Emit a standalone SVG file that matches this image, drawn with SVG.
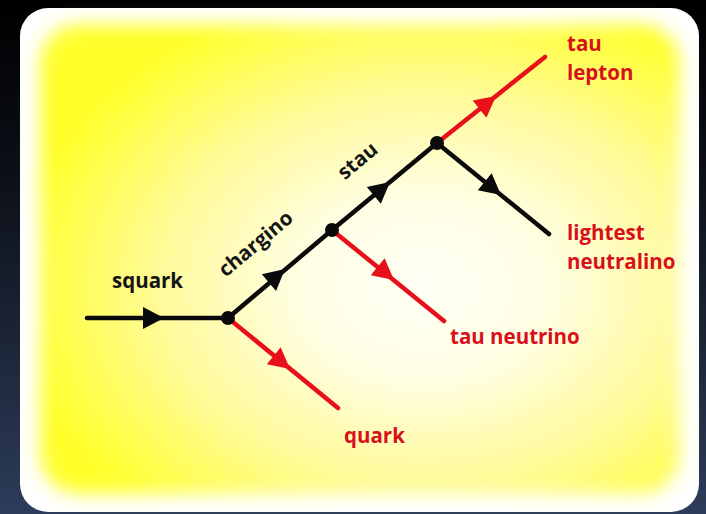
<svg xmlns="http://www.w3.org/2000/svg" width="706" height="514" viewBox="0 0 706 514">
  <defs>
    <linearGradient id="bg" x1="0" y1="0" x2="0" y2="1">
      <stop offset="0" stop-color="#000000"/>
      <stop offset="0.35" stop-color="#0c1018"/>
      <stop offset="1" stop-color="#2d3c5a"/>
    </linearGradient>
    <radialGradient id="glow" cx="0.6" cy="0.56" r="0.64">
      <stop offset="0" stop-color="#fffff6"/>
      <stop offset="0.3" stop-color="#fffee4"/>
      <stop offset="0.65" stop-color="#fffb98"/>
      <stop offset="1" stop-color="#ffff2a"/>
    </radialGradient>
    <filter id="blur" x="-10%" y="-10%" width="120%" height="120%">
      <feGaussianBlur stdDeviation="9"/>
    </filter>
    <path id="tri" d="M-21,-11 L0,0 L-21,11 Z"/>
    <style>
      .blk { stroke: #0a0a0a; stroke-width: 4.5; fill: none; stroke-linecap: round; }
      .red { stroke: #e8101a; stroke-width: 4.5; fill: none; stroke-linecap: round; }
      .ahb { fill: #0a0a0a; }
      .ahr { fill: #e8101a; }
      .dot { fill: #0a0a0a; }
      text { font-family: "Open Sans", "Liberation Sans", Arial, sans-serif; font-weight: bold; font-size: 20.5px; }
      .tb { fill: #141414; }
      .tr { fill: #d8101c; }
    </style>
  </defs>

  <rect x="0" y="0" width="706" height="514" fill="url(#bg)"/>
  <rect x="20" y="8" width="679" height="504" rx="28" ry="28" fill="#ffffff"/>
  <rect x="40" y="24" width="640" height="470" rx="40" ry="40" fill="url(#glow)" filter="url(#blur)"/>

  <g id="connectors">
    <line class="blk" x1="87" y1="318" x2="228" y2="318"/>
    <use href="#tri" class="ahb" transform="translate(164,318)"/>
    <line class="blk" x1="228" y1="318" x2="332" y2="230"/>
    <use href="#tri" class="ahb" transform="translate(285,269) rotate(-40.2)"/>
    <line class="blk" x1="332" y1="230" x2="437" y2="143"/>
    <use href="#tri" class="ahb" transform="translate(390,182) rotate(-39.6)"/>
    <line class="red" x1="437" y1="143" x2="545" y2="57"/>
    <use href="#tri" class="ahr" transform="translate(496,96) rotate(-38.5)"/>
    <line class="blk" x1="437" y1="143" x2="549" y2="234"/>
    <use href="#tri" class="ahb" transform="translate(501,195) rotate(39.1)"/>
    <line class="red" x1="332" y1="230" x2="444" y2="321"/>
    <use href="#tri" class="ahr" transform="translate(394,280) rotate(39)"/>
    <line class="red" x1="228" y1="318" x2="338" y2="408"/>
    <use href="#tri" class="ahr" transform="translate(290,369) rotate(39.3)"/>
  </g>

  <g id="v1"><circle class="dot" cx="228" cy="318" r="7"/></g>
  <g id="v2"><circle class="dot" cx="332" cy="230" r="7"/></g>
  <g id="v3"><circle class="dot" cx="437" cy="143" r="7"/></g>

  <g id="squark"><text class="tb" x="112" y="288">squark</text></g>
  <g id="chargino"><text class="tb" text-anchor="middle" transform="translate(260,249) rotate(-40)">chargino</text></g>
  <g id="stau"><text class="tb" text-anchor="middle" transform="translate(362,166) rotate(-40)">stau</text></g>
  <g id="tau-lepton"><text class="tr" x="567" y="51">tau</text><text class="tr" x="567" y="80">lepton</text></g>
  <g id="neutralino"><text class="tr" x="567" y="240">lightest</text><text class="tr" x="567" y="269">neutralino</text></g>
  <g id="tau-neutrino"><text class="tr" x="450" y="344">tau neutrino</text></g>
  <g id="quark"><text class="tr" x="344" y="443">quark</text></g>
</svg>
